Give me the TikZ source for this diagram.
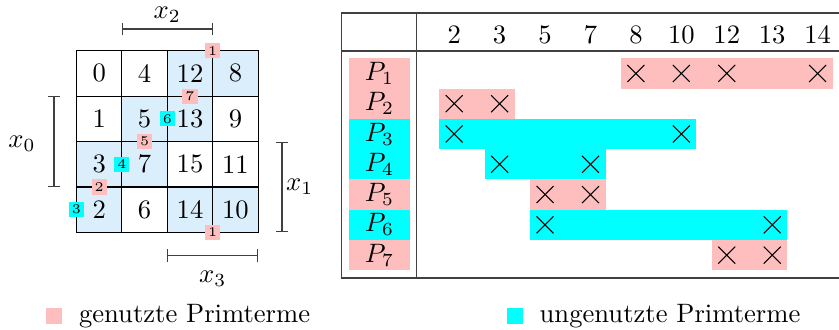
\documentclass[tikz,border=0pt]{standalone}
\usetikzlibrary{arrows.meta, shapes.misc}
\definecolor{kvblau}{RGB}{219,238,251}
\definecolor{rosa}{RGB}{255,190,190}
\definecolor{tuerkis}{RGB}{0,255,255}
\begin{document}
\begin{tikzpicture}[
  kv/.style={draw, minimum size=0.6cm, inner sep=0pt, anchor=center},
  eins/.style={kv, fill=kvblau},
  marke/.style={font=\tiny, minimum size=0.2cm, inner sep=0.5pt},
  genutzt/.style={fill=rosa},
  ungenutzt/.style={fill=tuerkis},
  pl/.style={minimum width=0.8cm, minimum height=0.4cm, inner sep=0pt},
  kreuz/.style={cross out, draw, minimum size=0.21cm, inner sep=0pt},
  klammer/.style={black!75, {Bar[width=0.17cm]}-{Bar[width=0.17cm]}},
  linie/.style={black!75}
]
\useasboundingbox (0,0) rectangle (11.083,-4.359);
\def\dx{0.6}\def\dy{0.4}\def\kx{1.01}\def\ky{-0.67}\def\tx{6.0}
% KV-Diagramm
\foreach \zeile [count=\r from 0] in {{0/kv,4/kv,12/eins,8/eins}, {1/kv,5/eins,13/eins,9/kv}, {3/eins,7/eins,15/kv,11/kv}, {2/eins,6/kv,14/eins,10/eins}}
  \foreach \v/\s [count=\c from 0] in \zeile
    \node[\s] (k\v) at ({\kx+(\c+0.5)*\dx}, {\ky-(\r+0.5)*\dx}) {\v};
% Klammern
\draw[klammer] (1.61,-0.383) -- (2.81,-0.383);
\node (lx2) at (2.21,-0.2) {$x_2$};
\draw[klammer] (0.713,-1.27) -- (0.713,-2.47);
\node (lx0) at (0.29,-1.9) {$x_0$};
\draw[klammer] (3.725,-1.87) -- (3.725,-3.07);
\node (lx1) at (3.96,-2.47) {$x_1$};
\draw[klammer] (2.21,-3.38) -- (3.41,-3.38);
\node (lx3) at (2.81,-3.68) {$x_3$};
% Marken der Primterme
\foreach \n/\s/\x/\y [count=\i] in {1/genutzt/2.81/-0.67, 1/genutzt/2.81/-3.07, 7/genutzt/2.51/-1.27, 6/ungenutzt/2.21/-1.57, 5/genutzt/1.91/-1.87, 4/ungenutzt/1.61/-2.17, 2/genutzt/1.31/-2.47, 3/ungenutzt/1.01/-2.77}
  \node[marke, \s] (m\i) at (\x, \y) {\n};
% Tabelle
\draw[linie] (11.083,-0.172) -- (4.505,-0.172) -- (4.505,-3.672) -- (11.083,-3.672);
\draw[linie] (4.505,-0.674) -- (11.083,-0.674);
\draw[linie] (5.505,-0.172) -- (5.505,-3.672);
\foreach \m [count=\i from 0] in {2,3,5,7,8,10,12,13,14}
  \node (h\m) at ({\tx+\i*\dx}, -0.462) {\m};
% Zeilen: Stil/erste Spalte/letzte Spalte/Kreuze
\foreach \s/\a/\b/\xs [count=\i from 1] in {genutzt/4/8/{4,5,6,8}, genutzt/0/1/{0,1}, ungenutzt/0/5/{0,5}, ungenutzt/1/3/{1,3}, genutzt/2/3/{2,3}, ungenutzt/2/7/{2,7}, genutzt/6/7/{6,7}} {
  \fill[\s] ({\tx+\a*\dx-0.2}, {-0.77-(\i-1)*\dy}) rectangle ({\tx+\b*\dx+0.2}, {-0.77-\i*\dy});
  \node[pl, \s] (p\i) at (5.013, {-0.97-(\i-1)*\dy}) {$P_\i$};
  \foreach \k in \xs
    \node[kreuz] (x\i\k) at ({\tx+\k*\dx}, {-0.97-(\i-1)*\dy}) {};
}
% Legende
\node[genutzt, minimum size=0.21cm, inner sep=0pt] (lg1) at (0.71,-4.175) {};
\node[anchor=west] (lt1) at (0.92,-4.175) {genutzte Primterme};
\node[ungenutzt, minimum size=0.21cm, inner sep=0pt] (lg2) at (6.80,-4.175) {};
\node[anchor=west] (lt2) at (7.005,-4.175) {ungenutzte Primterme};
\end{tikzpicture}
\end{document}
